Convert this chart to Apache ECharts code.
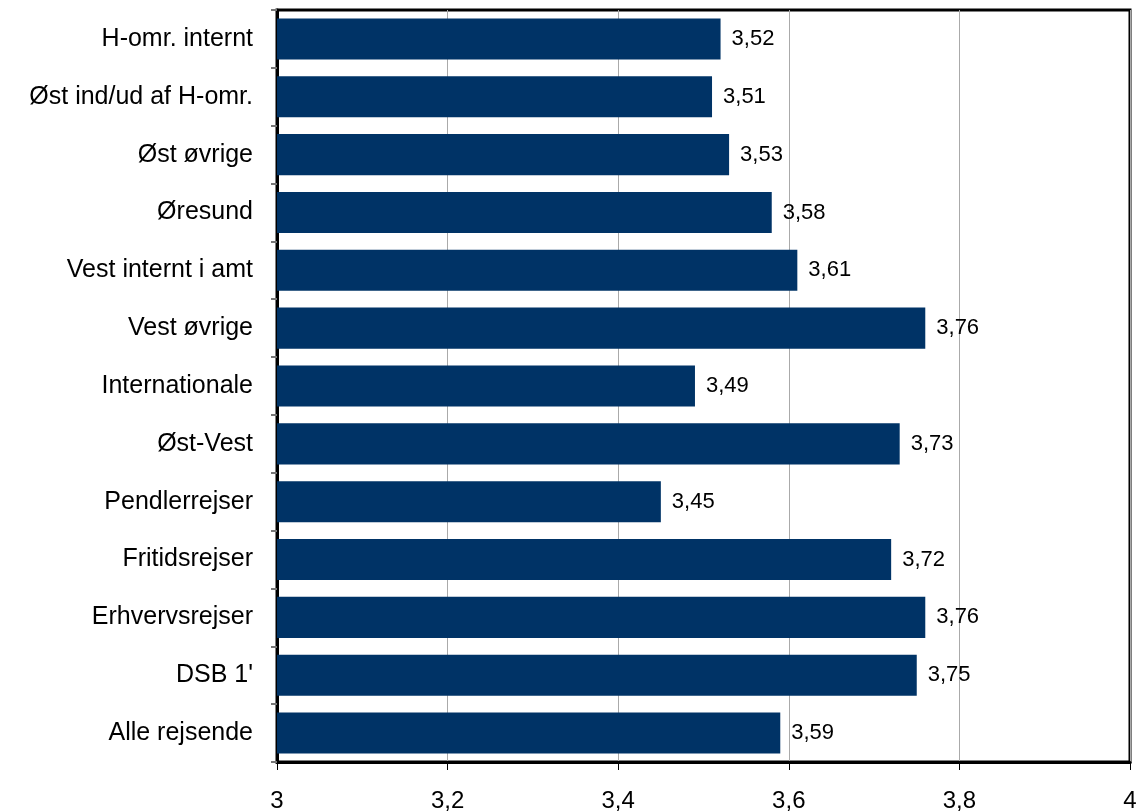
<!DOCTYPE html>
<html lang="da">
<head>
<meta charset="UTF-8">
<title>Tilfredshed</title>
<script src="https://cdn.jsdelivr.net/npm/echarts@6/dist/echarts.min.js"></script>
<style>
  html, body { margin: 0; padding: 0; background: #fff; }
  #chart { width: 1138px; height: 812px; }
</style>
</head>
<body>
<div id="chart"></div>
<script>
// categories, top to bottom
const categories = [
    'H-omr. internt',
    'Øst ind/ud af H-omr.',
    'Øst øvrige',
    'Øresund',
    'Vest internt i amt',
    'Vest øvrige',
    'Internationale',
    'Øst-Vest',
    'Pendlerrejser',
    'Fritidsrejser',
    'Erhvervsrejser',
    'DSB 1\'',
    'Alle rejsende'
];
const values = [3.52, 3.51, 3.53, 3.58, 3.61, 3.76, 3.49, 3.73, 3.45, 3.72, 3.76, 3.75, 3.59];
const xTicks = [3, 3.2, 3.4, 3.6, 3.8, 4];

const fmt = v => String(v).replace('.', ',');

const chart = echarts.init(document.getElementById('chart'));
chart.setOption({
    animation: false,
    textStyle: { fontFamily: 'Liberation Sans, Arial, sans-serif' },
    grid: {
        left: 277, right: 8, top: 10, bottom: 50,
        outerBoundsMode: 'none',
        show: true, borderColor: '#000', borderWidth: 3
    },
    xAxis: {
        type: 'value',
        min: xTicks[0],
        max: xTicks[xTicks.length - 1],
        interval: 0.2,
        axisLine: { show: true, lineStyle: { color: '#000', width: 3 } },
        axisTick: { show: true, length: 8, lineStyle: { color: '#000' } },
        axisLabel: { fontSize: 24, color: '#000', margin: 27, formatter: v => fmt(+v.toFixed(1)) },
        splitLine: { show: true, lineStyle: { color: '#aaa', width: 1 } }
    },
    yAxis: {
        type: 'category',
        data: categories,
        inverse: true,
        axisLine: { show: true, lineStyle: { color: '#000', width: 3 } },
        axisTick: { show: true, length: 6, lineStyle: { color: '#777', width: 2 } },
        axisLabel: { fontSize: 25, color: '#000', margin: 24 }
    },
    series: [{
        type: 'bar',
        data: values,
        barCategoryGap: '29%',
        itemStyle: { color: '#003366' },
        label: {
            show: true,
            position: 'right',
            distance: 11,
            fontSize: 22,
            color: '#000',
            formatter: p => fmt(p.value)
        }
    }]
});
</script>
</body>
</html>
